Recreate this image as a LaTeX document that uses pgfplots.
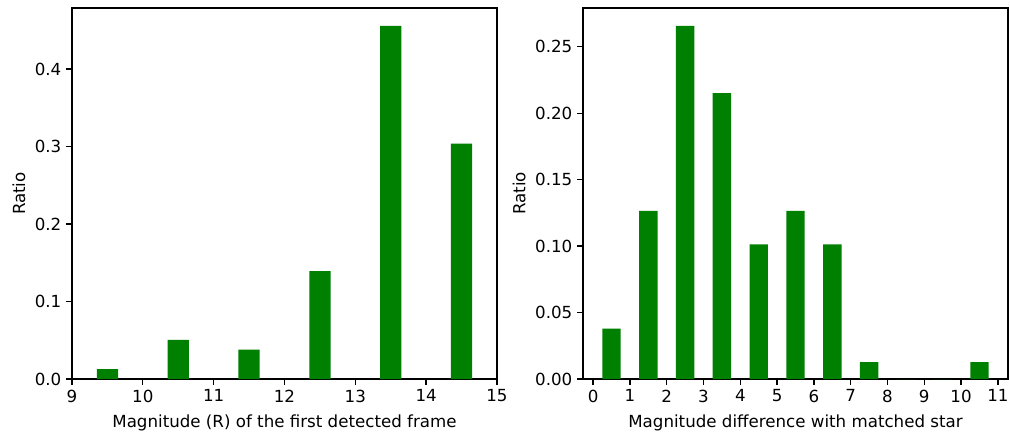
\documentclass[border=0pt]{standalone}
\usepackage{fontspec}
\setmainfont{DejaVu Sans}
\usepackage{pgfplots}
\pgfplotsset{compat=1.18}
\definecolor{mplgreen}{HTML}{008000}

\pgfplotsset{
  hist/.style={
    scale only axis, width=306bp, height=267bp,
    axis line style={line width=0.96bp},
    tick style={line width=0.96bp, black},
    major tick length=4.2bp, tick align=outside, tick pos=left,
    ymin=0, ybar, bar shift=0pt,
    /pgf/number format/assume math mode=true,
    tick label style={font=\fontsize{12bp}{14bp}\selectfont},
    label style={font=\fontsize{12bp}{14bp}\selectfont},
    xlabel style={yshift=-2bp},
    ylabel={Ratio},
  }
}

\begin{document}
\begin{tikzpicture}
\path[use as bounding box] (-51.84bp,-39.6bp) rectangle (675.36bp,272.88bp);

\begin{axis}[hist, at={(0,0)},
  xmin=9, xmax=15, ymax=0.4785,
  xtick={9,...,15},
  ytick={0,0.1,0.2,0.3,0.4},
  yticklabel style={/pgf/number format/fixed, /pgf/number format/fixed zerofill, /pgf/number format/precision=1},
  xlabel={Magnitude (R) of the first detected frame},
]
\addplot[fill=mplgreen, draw=none, bar width=0.3] coordinates {
  (9.5,0.0127) (10.5,0.0506) (11.5,0.0380) (12.5,0.1392) (13.5,0.4557) (14.5,0.3038)
};
\end{axis}

\begin{axis}[hist, at={(367.92bp,0)},
  xmin=-0.275, xmax=11.275, ymax=0.2791,
  xtick={0,...,11},
  ytick={0,0.05,0.1,0.15,0.2,0.25},
  yticklabel style={/pgf/number format/fixed, /pgf/number format/fixed zerofill, /pgf/number format/precision=2},
  xlabel={Magnitude difference with matched star},
]
\addplot[fill=mplgreen, draw=none, bar width=0.5] coordinates {
  (0.5,0.0380) (1.5,0.1266) (2.5,0.2658) (3.5,0.2152) (4.5,0.1013) (5.5,0.1266)
  (6.5,0.1013) (7.5,0.0127) (8.5,0) (9.5,0) (10.5,0.0127)
};
\end{axis}
\end{tikzpicture}
\end{document}
